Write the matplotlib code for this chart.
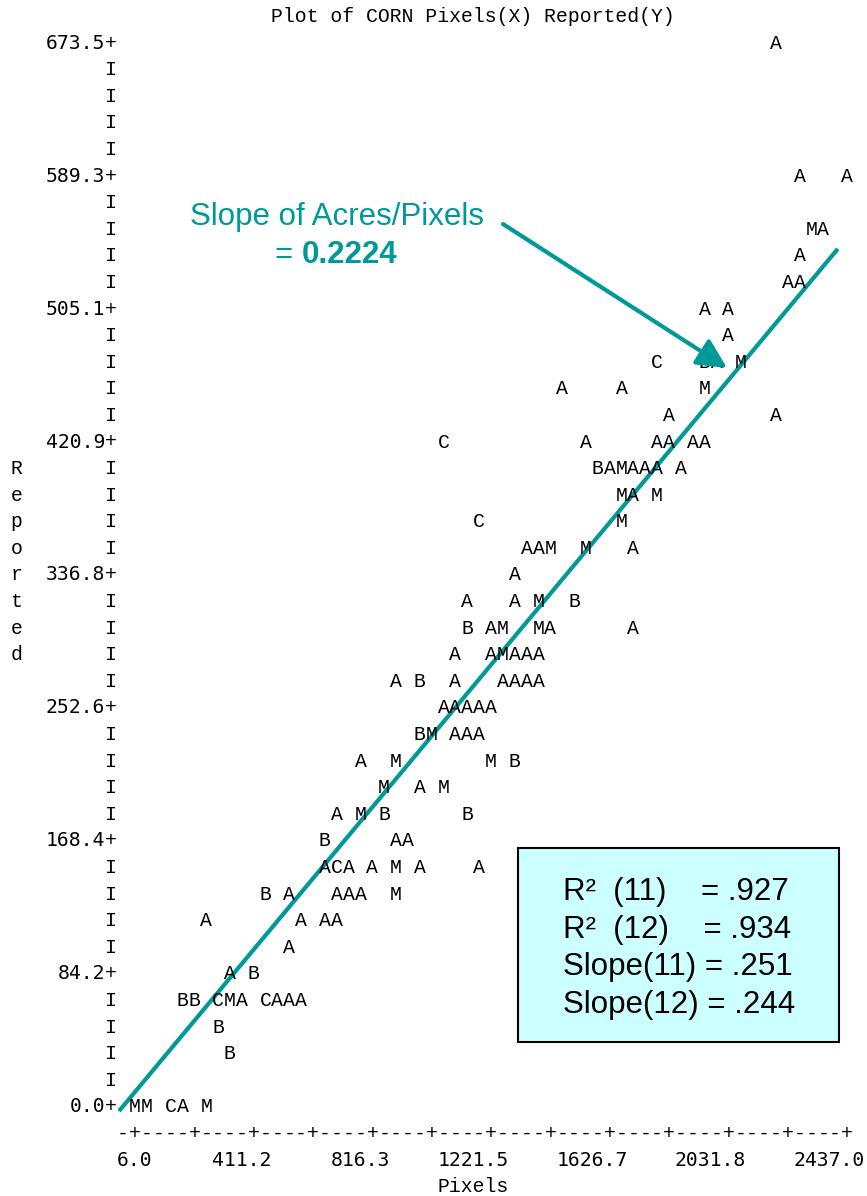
import matplotlib.pyplot as plt
from matplotlib.patches import Rectangle

# CORN: pixel count (X) against reported acres (Y), one plot symbol per cell
pixels = [
    2193.9,
    2274.9, 2437.0,
    2315.5, 2356.0,
    2274.9,
    2234.4, 2274.9,
    1950.8, 2031.8,
    2031.8,
    1788.7, 1950.8, 1991.3, 2072.4,
    1464.6, 1667.2, 1950.8,
    1829.3, 2193.9,
    1059.4, 1545.6, 1788.7, 1829.3, 1910.3, 1950.8,
    1586.2, 1626.7, 1667.2, 1707.7, 1748.2, 1788.7, 1869.8,
    1667.2, 1707.7, 1788.7,
    1181.0, 1667.2,
    1343.0, 1383.6, 1424.1, 1545.6, 1707.7,
    1302.5,
    1140.5, 1302.5, 1383.6, 1505.1,
    1140.5, 1221.5, 1262.0, 1383.6, 1424.1, 1707.7,
    1099.9, 1221.5, 1262.0, 1302.5, 1343.0, 1383.6,
    897.4, 978.4, 1099.9, 1262.0, 1302.5, 1343.0, 1383.6,
    1059.4, 1099.9, 1140.5, 1181.0, 1221.5,
    978.4, 1018.9, 1099.9, 1140.5, 1181.0,
    775.8, 897.4, 1221.5, 1302.5,
    856.8, 978.4, 1059.4,
    694.8, 775.8, 856.8, 1140.5,
    654.3, 897.4, 937.9,
    654.3, 694.8, 735.3, 816.3, 897.4, 978.4, 1181.0,
    451.7, 532.7, 694.8, 735.3, 775.8, 897.4,
    249.1, 573.2, 654.3, 694.8,
    532.7,
    330.1, 411.2,
    168.1, 208.6, 289.6, 330.1, 370.7, 451.7, 492.2, 532.7, 573.2,
    289.6,
    330.1,
    6.0, 46.5, 127.6, 168.1, 249.1,
]
reported = [
    673.5,
    589.3, 589.3,
    555.6, 555.6,
    538.8,
    522.0, 522.0,
    505.1, 505.1,
    488.3,
    471.5, 471.5, 471.5, 471.5,
    454.6, 454.6, 454.6,
    437.8, 437.8,
    420.9, 420.9, 420.9, 420.9, 420.9, 420.9,
    404.1, 404.1, 404.1, 404.1, 404.1, 404.1, 404.1,
    387.3, 387.3, 387.3,
    370.4, 370.4,
    353.6, 353.6, 353.6, 353.6, 353.6,
    336.8,
    319.9, 319.9, 319.9, 319.9,
    303.1, 303.1, 303.1, 303.1, 303.1, 303.1,
    286.2, 286.2, 286.2, 286.2, 286.2, 286.2,
    269.4, 269.4, 269.4, 269.4, 269.4, 269.4, 269.4,
    252.6, 252.6, 252.6, 252.6, 252.6,
    235.7, 235.7, 235.7, 235.7, 235.7,
    218.9, 218.9, 218.9, 218.9,
    202.1, 202.1, 202.1,
    185.2, 185.2, 185.2, 185.2,
    168.4, 168.4, 168.4,
    151.5, 151.5, 151.5, 151.5, 151.5, 151.5, 151.5,
    134.7, 134.7, 134.7, 134.7, 134.7, 134.7,
    117.9, 117.9, 117.9, 117.9,
    101.0,
    84.2, 84.2,
    67.4, 67.4, 67.4, 67.4, 67.4, 67.4, 67.4, 67.4, 67.4,
    50.5,
    33.7,
    0.0, 0.0, 0.0, 0.0, 0.0,
]
symbols = list(
    "A" "AA" "MA" "A" "AA" "AA" "A" "CBAM" "AAM" "AA" "CAAAAA" "BAMAAAA"
    "MAM" "CM" "AAMMA" "A" "AAMB" "BAMMAA" "AAMAAA" "ABAAAAA" "AAAAA"
    "BMAAA" "AMMB" "MAM" "AMBB" "BAA" "ACAAMAA" "BAAAAM" "AAAA" "A" "AB"
    "BBCMACAAA" "B" "B" "MMCAM"
)

x_ticks = [6.0, 411.2, 816.3, 1221.5, 1626.7, 2031.8, 2437.0]
y_ticks = [0.0, 84.2, 168.4, 252.6, 336.8, 420.9, 505.1, 589.3, 673.5]

fit_slope = 0.2224
fit_intercept = 8.2
fit_x = [-48.6, 2405.6]

r2 = [".927", ".934"]
slopes = [".251", ".244"]

teal = "#009999"
mono = "Liberation Mono"
num_font = "DejaVu Sans Mono"
sans = "Liberation Sans"
cs = 14.2

# one character cell of the printer plot
x_step = (x_ticks[-1] - x_ticks[0]) / 60
y_step = y_ticks[-1] / 40

fig = plt.figure(figsize=(8.67, 11.96), dpi=100)
ax = fig.add_axes([0, 0, 1, 1])
ax.set_xlim(-454.93, 2505.29)
ax.set_ylim(-56.34, 700.72)
ax.axis("off")

# vertical axis made of I's and +'s
y_axis_x = x_ticks[0] - 2 * x_step
for r in range(41):
    ch = "+" if r % 5 == 0 else "I"
    ax.text(y_axis_x, r * y_step, ch, family=mono, fontsize=cs,
            ha="center", va="center")
for v in y_ticks:
    ax.text(y_axis_x - 0.5 * x_step, v, f"{v:.1f}", family=num_font,
            fontsize=cs, ha="right", va="center")

# horizontal axis
for c in range(-1, 61):
    ch = "+" if c >= 0 and c % 5 == 0 else "-"
    ax.text(x_ticks[0] + c * x_step, -y_step, ch, family=mono, fontsize=cs,
            ha="center", va="center")
for v in x_ticks:
    ax.text(v + 1.5 * x_step, -2 * y_step, f"{v:.1f}", family=num_font,
            fontsize=cs, ha="right", va="center")

ax.text(x_ticks[0] + 25.5 * x_step, -3 * y_step, "Pixels", family=mono,
        fontsize=cs, ha="left", va="center")
for i, ch in enumerate("Reported"):
    ax.text(x_ticks[0] - 10 * x_step, (24 - i) * y_step, ch, family=mono,
            fontsize=cs, ha="center", va="center")
ax.text(x_ticks[0] + 11.5 * x_step, 41 * y_step,
        "Plot of CORN Pixels(X) Reported(Y)", family=mono, fontsize=cs,
        ha="left", va="center")

# the plotted symbols
for x, y, s in zip(pixels, reported, symbols):
    ax.text(x, y, s, family=mono, fontsize=cs, ha="center", va="center")

# fitted line
ax.plot(fit_x, [fit_slope * x + fit_intercept for x in fit_x], color=teal,
        lw=3, solid_capstyle="butt")

ax.annotate("", xy=(2027.3, 467.8), xytext=(1262.5, 558.9),
            arrowprops=dict(arrowstyle="-|>,head_length=0.9,head_width=0.45",
                            color=teal, lw=3, shrinkA=0, shrinkB=0,
                            mutation_scale=20))
ax.text(695.7, 558.3, "Slope of Acres/Pixels", family=sans, fontsize=22.5,
        color=teal, ha="center", va="baseline")
ax.text(512.3, 534.2, "=", family=sans, fontsize=22.5, color=teal,
        ha="center", va="baseline")
ax.text(575.1, 534.2, f"{fit_slope:.4f}", family=sans, fontsize=22.5,
        fontweight="bold", color=teal, ha="left", va="baseline")

# summary box
ax.add_patch(Rectangle((1313.7, 41.1), 1096.0, 122.8, facecolor="#CCFFFF",
                       edgecolor="black", lw=1.5, zorder=3))
box_lines = [
    f"R\u00b2  (11)    = {r2[0]}",
    f"R\u00b2  (12)    = {r2[1]}",
    f"Slope(11) = {slopes[0]}",
    f"Slope(12) = {slopes[1]}",
]
for line, yb in zip(box_lines, [131.0, 107.0, 83.6, 59.5]):
    ax.text(1467.3, yb, line, family=sans, fontsize=22.5, ha="left",
            va="baseline", zorder=4)

fig.savefig("out.png", dpi=100)
